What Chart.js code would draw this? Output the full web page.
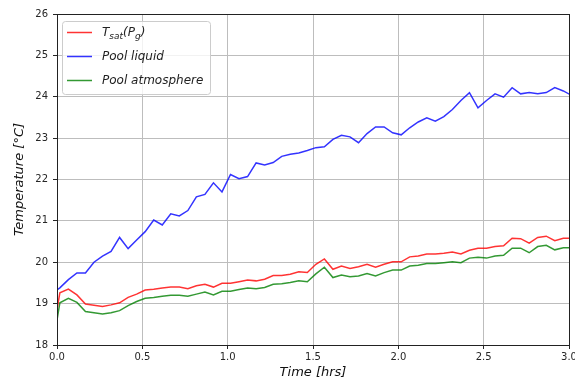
<!DOCTYPE html>
<html>
<head>
<meta charset="utf-8">
<script src="https://cdn.jsdelivr.net/npm/chart.js@4/dist/chart.umd.min.js"></script>
<style>
    html, body { margin: 0; padding: 0; background: #fff; }
    #wrap { width: 575px; height: 383px; }
</style>
</head>
<body>
<div id="wrap"><canvas id="chart" width="575" height="383"></canvas></div>
<script>
// Dados (tempo em horas, temperaturas em °C)
const timeHrs = [0, 0.0167, 0.0667, 0.1167, 0.1667, 0.2167, 0.2667, 0.3167, 0.3667, 0.4167, 0.4667,
    0.5167, 0.5667, 0.6167, 0.6667, 0.7167, 0.7667, 0.8167, 0.8667, 0.9167, 0.9667,
    1.0167, 1.0667, 1.1167, 1.1667, 1.2167, 1.2667, 1.3167, 1.3667, 1.4167, 1.4667,
    1.5167, 1.5667, 1.6167, 1.6667, 1.7167, 1.7667, 1.8167, 1.8667, 1.9167, 1.9667,
    2.0167, 2.0667, 2.1167, 2.1667, 2.2167, 2.2667, 2.3167, 2.3667, 2.4167, 2.4667,
    2.5167, 2.5667, 2.6167, 2.6667, 2.7167, 2.7667, 2.8167, 2.8667, 2.9167, 2.9667, 3.0167];

const tsatPg = [18.85, 19.26, 19.35, 19.21, 18.99, 18.96, 18.93, 18.97, 19.02, 19.15, 19.23,
    19.33, 19.35, 19.38, 19.40, 19.40, 19.36, 19.43, 19.47, 19.40, 19.49,
    19.49, 19.53, 19.57, 19.55, 19.59, 19.68, 19.68, 19.71, 19.77, 19.75,
    19.95, 20.08, 19.83, 19.91, 19.85, 19.89, 19.95, 19.88, 19.95, 20.01,
    20.01, 20.13, 20.15, 20.20, 20.20, 20.22, 20.25, 20.20, 20.29, 20.34,
    20.34, 20.38, 20.40, 20.58, 20.57, 20.46, 20.60, 20.63, 20.52, 20.58, 20.58];

const poolLiquid = [19.33, 19.38, 19.58, 19.74, 19.74, 20.00, 20.15, 20.26, 20.60, 20.33, 20.54,
    20.74, 21.02, 20.90, 21.17, 21.12, 21.25, 21.58, 21.64, 21.92, 21.70,
    22.12, 22.02, 22.07, 22.40, 22.35, 22.41, 22.56, 22.61, 22.64, 22.70,
    22.77, 22.79, 22.97, 23.07, 23.03, 22.89, 23.11, 23.27, 23.27, 23.13,
    23.08, 23.25, 23.39, 23.49, 23.41, 23.52, 23.69, 23.91, 24.10, 23.73,
    23.91, 24.07, 23.99, 24.22, 24.07, 24.10, 24.07, 24.10, 24.22, 24.14, 24.03];

const poolAtmosphere = [18.60, 19.02, 19.13, 19.03, 18.81, 18.78, 18.75, 18.78, 18.83, 18.95, 19.05,
    19.13, 19.15, 19.18, 19.20, 19.20, 19.18, 19.23, 19.28, 19.21, 19.30,
    19.30, 19.34, 19.38, 19.36, 19.39, 19.47, 19.48, 19.51, 19.55, 19.53,
    19.72, 19.88, 19.63, 19.69, 19.65, 19.67, 19.73, 19.67, 19.75, 19.81,
    19.81, 19.91, 19.93, 19.97, 19.97, 19.99, 20.01, 19.99, 20.10, 20.12,
    20.10, 20.15, 20.17, 20.34, 20.34, 20.23, 20.38, 20.41, 20.30, 20.35, 20.35];

const xTicks = [0, 0.5, 1.0, 1.5, 2.0, 2.5, 3.0];
const yTicks = [18, 19, 20, 21, 22, 23, 24, 25, 26];

const toPoints = (values) => values.map((v, i) => ({ x: timeHrs[i], y: v }));

const FONT = 'DejaVu Sans';

// Legenda desenhada dentro da área do gráfico (estilo matplotlib)
const legendItems = [
    { color: 'rgba(255,0,0,0.8)', parts: [['T', 0], ['sat', 1], ['(P', 0], ['g', 1], [')', 0]] },
    { color: 'rgba(0,0,255,0.8)', parts: [['Pool liquid', 0]] },
    { color: 'rgba(0,128,0,0.8)', parts: [['Pool atmosphere', 0]] }
];

const framePlugin = {
    id: 'frame',
    afterDraw(chart) {
        const { ctx, chartArea: a } = chart;
        ctx.save();
        ctx.strokeStyle = '#222';
        ctx.lineWidth = 1;
        ctx.strokeRect(Math.round(a.left) + 0.5, Math.round(a.top) + 0.5,
            Math.round(a.right - a.left), Math.round(a.bottom - a.top));

        // caixa da legenda
        const bx = a.left + 5, by = a.top + 7, bw = 148, bh = 73, r = 3;
        ctx.beginPath();
        ctx.roundRect(bx + 0.5, by + 0.5, bw, bh, r);
        ctx.fillStyle = 'rgba(255,255,255,0.8)';
        ctx.fill();
        ctx.strokeStyle = '#cccccc';
        ctx.stroke();

        legendItems.forEach((item, i) => {
            const y = by + 11.5 + i * 24;
            ctx.strokeStyle = item.color;
            ctx.lineWidth = 1.5;
            ctx.beginPath();
            ctx.moveTo(bx + 5, y);
            ctx.lineTo(bx + 30, y);
            ctx.stroke();

            let x = bx + 40;
            ctx.fillStyle = '#222';
            ctx.textBaseline = 'middle';
            item.parts.forEach(([txt, sub]) => {
                ctx.font = `italic ${sub ? 9 : 12}px "${FONT}"`;
                ctx.fillText(txt, x, sub ? y + 4 : y);
                x += ctx.measureText(txt).width;
            });
        });
        ctx.restore();
    }
};

const lineDataset = (label, values, color) => ({
    label,
    data: toPoints(values),
    borderColor: color,
    borderWidth: 1.5,
    pointRadius: 0,
    tension: 0,
    fill: false
});

new Chart(document.getElementById('chart'), {
    type: 'line',
    data: {
        datasets: [
            lineDataset('Tsat(Pg)', tsatPg, legendItems[0].color),
            lineDataset('Pool liquid', poolLiquid, legendItems[1].color),
            lineDataset('Pool atmosphere', poolAtmosphere, legendItems[2].color)
        ]
    },
    options: {
        responsive: false,
        animation: false,
        layout: { padding: { top: 14, right: 6, left: 0, bottom: 0 } },
        plugins: {
            legend: { display: false },
            tooltip: { enabled: false }
        },
        scales: {
            x: {
                type: 'linear',
                min: 0,
                max: 3,
                afterFit(s) { s.height = 38; s.paddingLeft = 0; s.paddingRight = 0; },
                afterBuildTicks(s) { s.ticks = xTicks.map(v => ({ value: v })); },
                ticks: {
                    font: { family: FONT, size: 10 },
                    color: '#262626',
                    padding: 2,
                    maxRotation: 0,
                    autoSkip: false,
                    callback: v => v.toFixed(1)
                },
                grid: { color: '#bdbdbd', tickColor: '#262626', tickLength: 4 },
                border: { display: false },
                title: {
                    display: true,
                    text: 'Time [hrs]',
                    font: { family: FONT, style: 'italic', size: 13 },
                    color: '#111',
                    padding: { top: 0, bottom: 3 }
                }
            },
            y: {
                min: 18,
                max: 26,
                afterFit(s) { s.width = 57; s.paddingTop = 0; s.paddingBottom = 0; },
                afterBuildTicks(s) { s.ticks = yTicks.map(v => ({ value: v })); },
                ticks: {
                    font: { family: FONT, size: 10 },
                    color: '#262626',
                    padding: 5,
                    autoSkip: false,
                    callback: v => String(v)
                },
                grid: { color: '#bdbdbd', tickColor: '#262626', tickLength: 4 },
                border: { display: false },
                title: {
                    display: true,
                    text: 'Temperature [°C]',
                    font: { family: FONT, style: 'italic', size: 13 },
                    color: '#111',
                    padding: { top: 12, bottom: 0 }
                }
            }
        }
    },
    plugins: [framePlugin]
});
</script>
</body>
</html>
